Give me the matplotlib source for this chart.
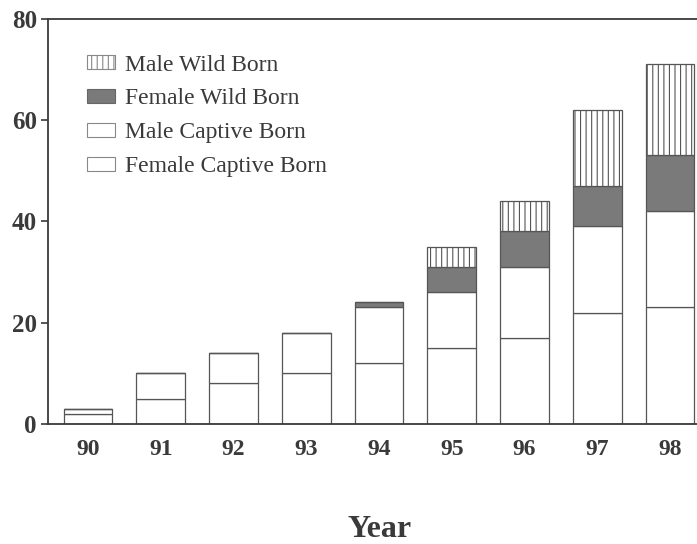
import numpy as np
import matplotlib
matplotlib.use('Agg')
import matplotlib.pyplot as plt
from matplotlib.patches import Patch

years = ['90', '91', '92', '93', '94', '95', '96', '97', '98']
female_captive = [2, 5, 8, 10, 12, 15, 17, 22, 23]
male_captive = [1, 5, 6, 8, 11, 11, 14, 17, 19]
female_wild = [0, 0, 0, 0, 1, 5, 7, 8, 11]
male_wild = [0, 0, 0, 0, 0, 4, 6, 15, 18]

plt.rcParams['font.family'] = ['Liberation Serif', 'DejaVu Serif']
plt.rcParams['hatch.linewidth'] = 0.8
ink = '#3a3a3a'
edge = '#555555'

fig = plt.figure(figsize=(6.97, 5.44), dpi=100)
ax = fig.add_axes([0.069, 0.2206, 0.931, 0.745])

x = np.arange(len(years))
w = 0.67
fc = np.array(female_captive)
mc = np.array(male_captive)
fw = np.array(female_wild)
mw = np.array(male_wild)

ax.bar(x, fc, w, color='white', edgecolor=edge, linewidth=0.9)
ax.bar(x, mc, w, bottom=fc, color='white', edgecolor=edge, linewidth=0.9)
ax.bar(x, fw, w, bottom=fc + mc, color='#7a7a7a', edgecolor=edge, linewidth=0.9)
ax.bar(x, mw, w, bottom=fc + mc + fw, color='white', edgecolor=edge,
       linewidth=0.9, hatch='|||')

ax.set_xlim(-0.55, 8.37)
ax.set_ylim(0, 80)
ax.set_yticks([0, 20, 40, 60, 80])
ax.set_xticks(x)
ax.set_xticklabels(years)
ax.tick_params(axis='y', direction='out', length=5, width=1.2, color=ink,
               labelsize=18, labelcolor=ink, pad=3)
ax.tick_params(axis='x', length=0, labelsize=17, labelcolor=ink, pad=11)
for lab in ax.get_xticklabels() + ax.get_yticklabels():
    lab.set_fontweight('bold')

ax.spines['right'].set_visible(False)
for s in ['left', 'top', 'bottom']:
    ax.spines[s].set_color(ink)
    ax.spines[s].set_linewidth(1.3)

fig.text(0.545, 0.026, 'Year', ha='center', va='center', fontsize=23,
         fontweight='bold', color=ink)

handles = [
    Patch(facecolor='white', edgecolor='#888888', hatch='|||', linewidth=0.8),
    Patch(facecolor='#7a7a7a', edgecolor='#666666', linewidth=0.8),
    Patch(facecolor='white', edgecolor='#888888', linewidth=0.8),
    Patch(facecolor='white', edgecolor='#888888', linewidth=0.8),
]
labels = ['Male Wild Born', 'Female Wild Born', 'Male Captive Born',
          'Female Captive Born']
leg = ax.legend(handles, labels, loc='upper left', bbox_to_anchor=(0.045, 0.935),
                frameon=False, fontsize=17, handlelength=1.2, handleheight=0.55,
                handletextpad=0.4, labelspacing=0.55, borderaxespad=0)
for t in leg.get_texts():
    t.set_color(ink)

fig.savefig('out.png', dpi=100)
